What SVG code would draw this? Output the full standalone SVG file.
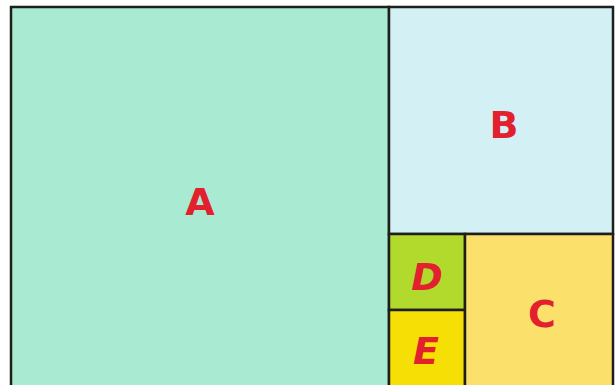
<svg xmlns="http://www.w3.org/2000/svg" width="615" height="385" viewBox="0 0 615 385">
<style>
.box{stroke:#1e1e1a;stroke-width:2.5}
.lbl{font-family:"DejaVu Sans","Liberation Sans",sans-serif;font-weight:bold;font-size:38px;fill:#e3202e;text-anchor:middle}
</style>
<rect x="0" y="0" width="615" height="385" fill="#ffffff"/>
<g id="A"><rect class="box" x="11" y="7" width="378" height="380" fill="#a9ebd2"/><text class="lbl" x="200" y="215">A</text></g>
<g id="B"><rect class="box" x="389" y="7" width="224" height="227" fill="#d3f1f5"/><text class="lbl" x="504" y="138">B</text></g>
<g id="D"><rect class="box" x="389" y="234" width="76" height="76" fill="#b2da2c"/><text class="lbl" x="427" y="290" font-style="italic">D</text></g>
<g id="E"><rect class="box" x="389" y="310" width="76" height="77" fill="#f5df05"/><text class="lbl" x="426" y="364" font-style="italic">E</text></g>
<g id="C"><rect class="box" x="465" y="234" width="148" height="153" fill="#fbe06c"/><text class="lbl" x="542" y="327">C</text></g>
<g id="connectors"/>
</svg>
